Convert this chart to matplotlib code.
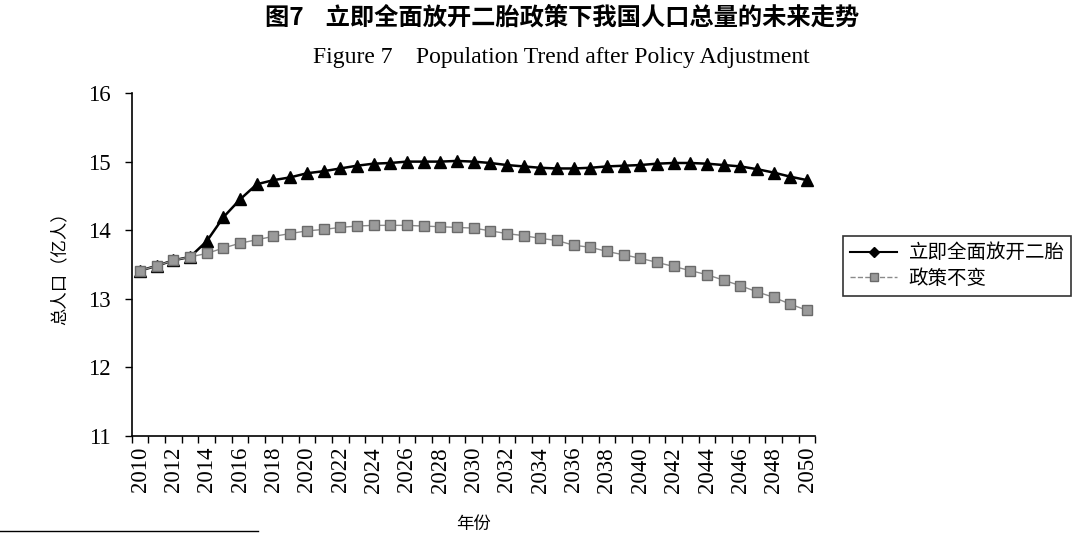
import matplotlib
matplotlib.use("Agg")
import matplotlib.pyplot as plt
from matplotlib.lines import Line2D

# data (total population, 100 million people)
years = list(range(2010, 2051))
policy_open = [13.41, 13.48, 13.56, 13.61, 13.84, 14.19, 14.45, 14.67, 14.73, 14.77,
               14.83, 14.86, 14.90, 14.94, 14.97, 14.98, 15.00, 15.00, 15.00, 15.01,
               15.00, 14.98, 14.95, 14.93, 14.91, 14.90, 14.90, 14.91, 14.93, 14.94,
               14.95, 14.97, 14.98, 14.98, 14.97, 14.95, 14.93, 14.89, 14.84, 14.78,
               14.73]
policy_same = [13.41, 13.48, 13.56, 13.61, 13.66, 13.74, 13.81, 13.86, 13.91, 13.95,
               13.99, 14.01, 14.04, 14.06, 14.07, 14.07, 14.07, 14.06, 14.05, 14.04,
               14.03, 13.99, 13.95, 13.92, 13.88, 13.85, 13.78, 13.75, 13.69, 13.64,
               13.59, 13.53, 13.47, 13.41, 13.35, 13.27, 13.19, 13.10, 13.02, 12.92,
               12.83]
series_names = ["立即全面放开二胎", "政策不变"]

cjk = ["Noto Sans CJK SC", "DejaVu Sans"]
serif = "Liberation Serif"

fig = plt.figure(figsize=(10.8, 5.38), dpi=100)
ax = fig.add_axes([0.122, 0.190, 0.633, 0.637])

x = list(range(len(years)))
ax.plot(x, policy_same, color="#8a8a8a", lw=1.0, marker="s", ms=7,
        markerfacecolor="#9a9a9a", markeredgecolor="#6a6a6a", zorder=3)
ax.plot(x, policy_open, color="black", lw=1.8, marker="^", ms=8,
        markerfacecolor="black", markeredgecolor="black", zorder=2)

ax.set_xlim(-0.5, len(years) - 0.5)
ax.set_ylim(11, 16)
ax.set_yticks([11, 12, 13, 14, 15, 16])

# year labels every two years, tick marks between categories
ax.set_xticks(x[::2])
ax.set_xticklabels([str(y) for y in years[::2]], rotation=90)
ax.set_xticks([i - 0.5 for i in range(len(years) + 1)], minor=True)
ax.tick_params(axis="x", which="major", length=0, pad=8)
ax.tick_params(axis="x", which="minor", length=5, direction="out", width=1)
ax.tick_params(axis="y", length=5, direction="out", width=1, pad=10)

for lab in ax.get_xticklabels() + ax.get_yticklabels():
    lab.set_fontfamily(serif)
    lab.set_fontsize(16.5)

ax.spines["top"].set_visible(False)
ax.spines["right"].set_visible(False)
for s in ["left", "bottom"]:
    ax.spines[s].set_linewidth(1.2)

ax.set_ylabel("总人口（亿人）", family=cjk, fontsize=12.5, labelpad=14)
ax.set_xlabel("年份", family=cjk, fontsize=12.5, labelpad=16)

# legend uses the original's diamond / square symbols
handles = [
    Line2D([], [], color="black", lw=1.5, marker="D", ms=5),
    Line2D([], [], color="#8a8a8a", lw=1.0, ls="--", marker="s", ms=6,
           markerfacecolor="#9a9a9a", markeredgecolor="#6a6a6a"),
]
leg = fig.legend(handles, series_names, loc="center left",
                 bbox_to_anchor=(0.772, 0.506), frameon=True, fancybox=False,
                 prop={"family": cjk, "size": 14}, handlelength=2.4,
                 borderpad=0.35, labelspacing=0.25, handletextpad=0.6)
leg.get_frame().set_edgecolor("black")
leg.get_frame().set_linewidth(1.2)

fig.text(0.52, 0.968, "图7    立即全面放开二胎政策下我国人口总量的未来走势",
         ha="center", va="center", family=cjk, fontsize=17.5, fontweight="bold")
fig.text(0.52, 0.893, "Figure 7    Population Trend after Policy Adjustment",
         ha="center", va="center", family=serif, fontsize=17)

# footnote rule at lower left
fig.add_artist(Line2D([0.0, 0.239], [0.013, 0.013], color="black", lw=1.0,
                      transform=fig.transFigure))

fig.savefig("out.png", dpi=100, facecolor="white")
